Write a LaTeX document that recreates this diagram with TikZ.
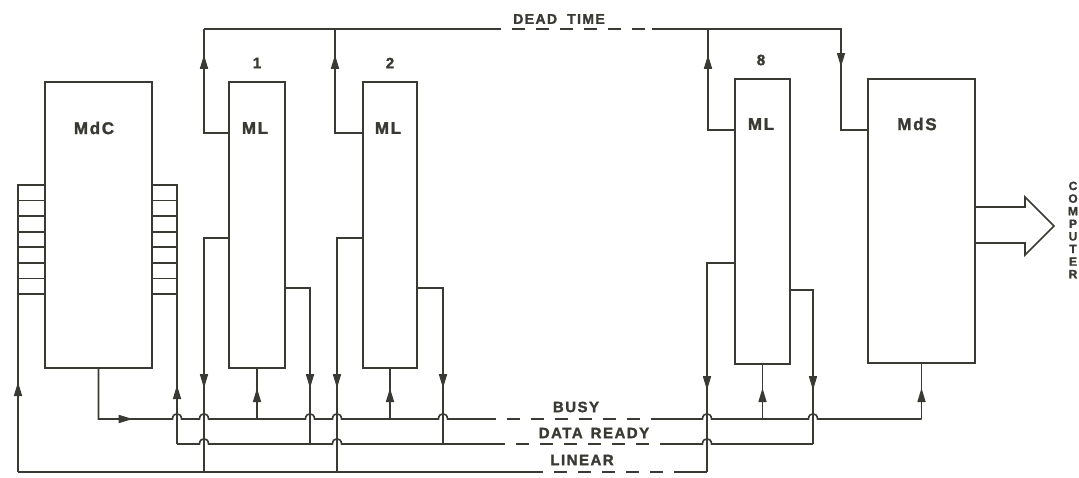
\documentclass[tikz,border=0pt]{standalone}
\usepackage{fontspec}
\usetikzlibrary{arrows.meta,decorations.markings}
\newfontfamily\labfont[LetterSpace=10,UprightFont={* Bold},BoldFont={* Bold},FakeBold=1.6]{Liberation Sans}
\definecolor{ink}{RGB}{58,58,52}
\newcommand\hopat[2]{-- ({#1-4.5},#2) .. controls ({#1-4.5},{#2-7}) and ({#1+4.5},{#2-7}) .. ({#1+4.5},#2)}
\begin{document}
\begin{tikzpicture}[x=1pt,y=-1pt,color=ink,
  mytip/.tip={Triangle[length=14pt,width=8pt]},
  bus/.style={draw=ink,line width=1.6pt},
  box/.style={draw=ink,line width=2.4pt,rectangle,inner sep=0pt},
  dsh/.style={bus,dash pattern=on 13pt off 11pt},
  arrat/.style={postaction={decorate},decoration={markings,mark=at position #1 with {\arrow{mytip}}}},
  lab/.style={text=ink,font=\labfont\fontsize{15}{15}\selectfont,inner sep=0pt},
  big/.style={text=ink,font=\labfont\fontsize{17}{17}\selectfont,inner sep=0pt}]
\useasboundingbox (0,0) rectangle (1079,477);

% boxes
\node[box,minimum width=107pt,minimum height=286pt] (mdc) at (98.5,225) {};
\node[box,minimum width=56pt,minimum height=286pt] (ml1) at (257,225) {};
\node[box,minimum width=54pt,minimum height=286pt] (ml2) at (390,225) {};
\node[box,minimum width=55pt,minimum height=285pt] (ml8) at (762.5,221.5) {};
\node[box,minimum width=107pt,minimum height=284pt] (mds) at (921.5,221) {};

% stacks
\node[box,line width=1.6pt,minimum width=27pt,minimum height=109pt] (stL) at (31.5,239.5) {};
\node[box,line width=1.6pt,minimum width=25pt,minimum height=109pt] (stR) at (164.5,239.5) {};
\foreach \k in {1,...,6}{
  \draw[bus] (18,{185+\k*109/7}) -- (45,{185+\k*109/7});
  \draw[bus] (152,{185+\k*109/7}) -- (177,{185+\k*109/7});
}

% labels
\node[big] (tmdc) at (94,128) {MdC};
\node[big] (tml1) at (255,128) {ML};
\node[big] (tml2) at (388,128) {ML};
\node[big] (tml8) at (761,124) {ML};
\node[big] (tmds) at (917,124) {MdS};
\node[lab] (n1) at (257,63) {1};
\node[lab] (n2) at (390,63) {2};
\node[lab] (n8) at (761,60) {8};
\node[lab,font=\labfont\fontsize{14}{14}\selectfont] (tdt) at (559,19) {DEAD\hspace{10pt}TIME};
\node[lab] (tbusy) at (576,407) {BUSY};
\node[lab] (tdr) at (594,433) {DATA\hspace{8pt}READY};
\node[lab] (tlin) at (582,460) {LINEAR};
\node[text=ink,inner sep=0pt,align=center,font=\labfont\fontsize{12}{12.6}\selectfont] (tcomp) at (1073,230) {C\\O\\M\\P\\U\\T\\E\\R};

% dead time
\coordinate (dtA) at (204,29);
\coordinate (dtB) at (488,29);
\coordinate (dtC) at (652,29);
\coordinate (dtD) at (841,29);
\draw[bus,arrat=102pt] (ml1.west |- 0,133) -| (dtA);
\draw[bus] (dtA) -- (dtB);
\draw[dsh] (dtB) -- (dtC);
\draw[bus,arrat=105pt] (ml2.west |- 0,133) -| (335,29);
\draw[bus,arrat=101pt] (ml8.west |- 0,130) -| (708,29);
\draw[bus,arrat=227pt] (dtC) -- (dtD) |- (mds.west |- 0,130);

% busy
\draw[bus,arrat=84pt] (mdc.south) -- (98.5,419) \hopat{177}{419} \hopat{204}{419} \hopat{310}{419} \hopat{337}{419} \hopat{443}{419} -- (483,419) coordinate (bA);
\draw[dsh] (bA) -- (663,419) coordinate (bB);
\draw[bus] (bB) \hopat{707}{419} \hopat{813}{419} -- (921.5,419) coordinate (bR);
\draw[bus,arrat=31pt] (bR) -- (mds.south);
\draw[bus,arrat=31pt] (257,419) -- (ml1.south);
\draw[bus,arrat=31pt] (390,419) -- (ml2.south);
\draw[bus,arrat=31pt] (762.5,419) -- (ml8.south);

% data ready
\coordinate (drL) at (177,444);
\draw[bus,arrat=59pt] (drL) -- (drL |- stR.south);
\draw[bus] (drL) \hopat{204}{444} -- (310,444) \hopat{337}{444} -- (492,444) coordinate (dA);
\draw[dsh] (dA) -- (663,444) coordinate (dB);
\draw[bus] (dB) \hopat{707}{444} -- (813,444);

% linear
\coordinate (lnL) at (18,472);
\draw[bus,arrat=90pt] (lnL) -- (lnL |- stL.south);
\draw[bus] (lnL) -- (530,472) coordinate (lA);
\draw[dsh] (lA) -- (678,472) coordinate (lB);
\draw[bus] (lB) -- (707,472);

% ML lower-left feedbacks to LINEAR
\draw[bus,arrat=174pt] (ml1.west |- 0,238) -| (204,472);
\draw[bus,arrat=175pt] (ml2.west |- 0,238) -| (337,472);
\draw[bus,arrat=154pt] (ml8.west |- 0,263) -| (707,472);

% ML right outputs to DATA READY
\draw[bus,arrat=124pt] (ml1.east |- 0,288) -| (310,444);
\draw[bus,arrat=125pt] (ml2.east |- 0,288) -| (443,444);
\draw[bus,arrat=122pt] (ml8.east |- 0,290) -| (813,444);

% output arrow
\draw[bus,line join=miter] (mds.east |- 0,207) -- (1025,207) -- (1025,197) -- (1054,226) -- (1025,255) -- (1025,243) -- (mds.east |- 0,243);
\end{tikzpicture}
\end{document}
